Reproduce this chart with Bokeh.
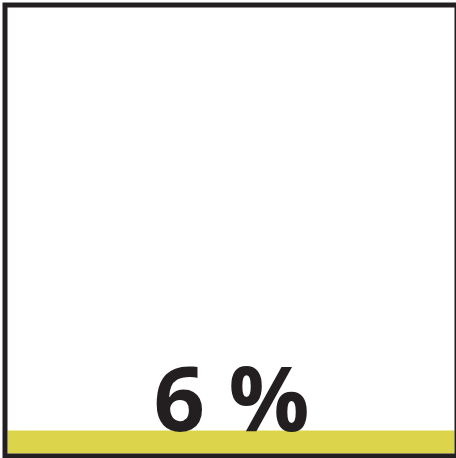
from bokeh.plotting import figure
from bokeh.models import Range1d
from bokeh.embed import file_html
from bokeh.resources import INLINE
from bokeh.core.properties import value as bvalue

# data
labels = ["6 %"]
values = [6]

W, H = 456, 458
k = 23 / 6.0          # pixels per percent
base_px = 453         # pixel row (from top) of 0 %

def y_of(py):
    return (base_px - py) / k

p = figure(width=W, height=H, output_backend="svg", toolbar_location=None,
           x_range=Range1d(0, W), y_range=Range1d(y_of(H), y_of(0)),
           min_border=0, outline_line_color=None, background_fill_color="white",
           border_fill_color="white")
p.axis.visible = False
p.grid.visible = False

# bar
p.quad(left=[7], right=[454], bottom=[0], top=values,
       fill_color="#dcd54b", line_color=None)

# text
p.text(x=[231], y=values, text=labels, text_align="center",
       text_baseline="alphabetic", text_font=bvalue("Open Sans"),
       text_font_style="bold", text_font_size="90px", text_color="#231f20",
       y_offset=-35)

# frame border
p.quad(left=[4.5], right=[456.5], bottom=[y_of(455.5)], top=[y_of(4.5)],
       fill_color=None, line_color="#231f20", line_width=5, line_join="miter")

open("out.html", "w").write(file_html(p, INLINE))
